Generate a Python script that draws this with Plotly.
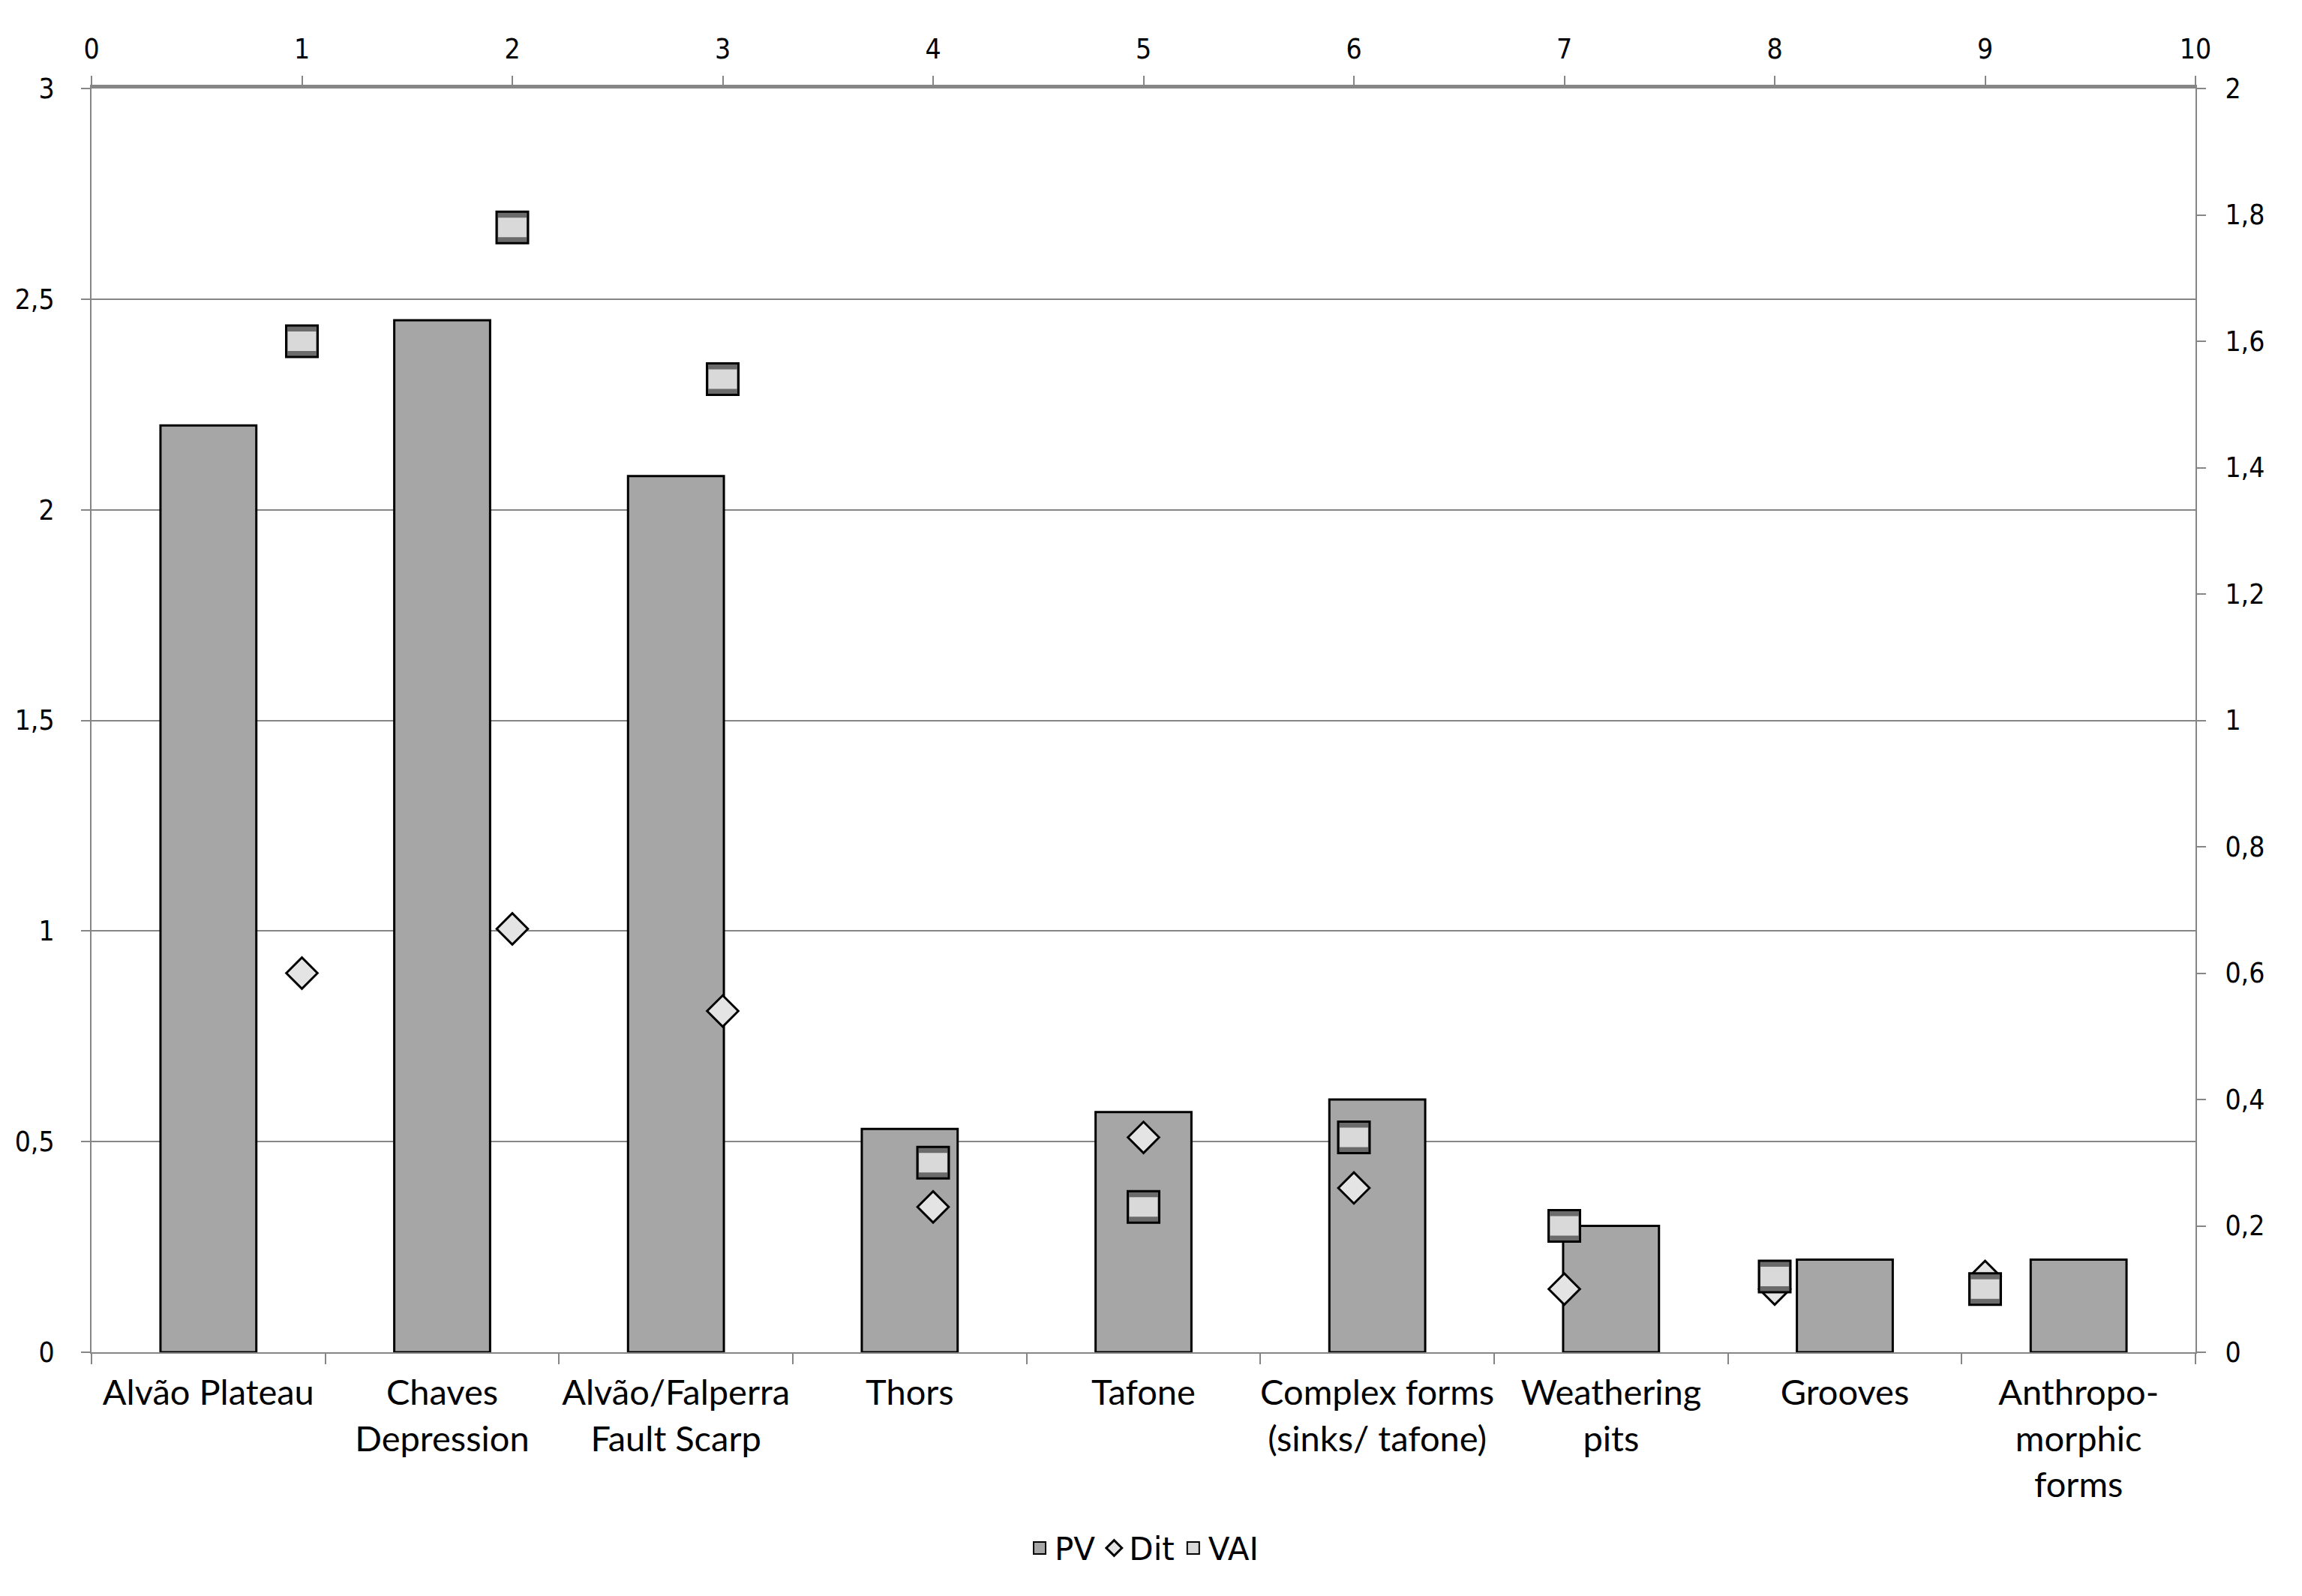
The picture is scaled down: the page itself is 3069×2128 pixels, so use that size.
import plotly.graph_objects as go

# ---- data ----
categories = ["Alvão Plateau", "Chaves<br>Depression", "Alvão/Falperra<br>Fault Scarp",
              "Thors", "Tafone", "Complex forms<br>(sinks/ tafone)", "Weathering<br>pits",
              "Grooves", "Anthropo-<br>morphic<br>forms"]
pv = [2.2, 2.45, 2.08, 0.53, 0.57, 0.6, 0.3, 0.22, 0.22]
point_x = [1, 2, 3, 4, 5, 6, 7, 8, 9]
dit = [0.6, 0.67, 0.54, 0.23, 0.34, 0.26, 0.1, 0.1, 0.12]
vai = [1.6, 1.78, 1.54, 0.3, 0.23, 0.34, 0.2, 0.12, 0.1]

AX = "#868686"
NUMFONT = dict(family="DejaVu Sans Condensed", size=37, color="black")
CATFONT = dict(family="Lato", size=47, color="black")

fig = go.Figure()

fig.add_trace(go.Bar(
    x=categories, y=pv, name="PV", width=0.41,
    marker=dict(color="#a6a6a6", line=dict(color="black", width=3)),
    showlegend=False, legendgroup="pv",
))
# legend entry for PV
fig.add_trace(go.Scatter(
    x=[None], y=[None], mode="markers", name="PV",
    marker=dict(symbol="square", size=16, color="#a6a6a6",
                line=dict(color="black", width=2)),
    legendgroup="pv", legendrank=1,
))

fig.add_trace(go.Scatter(
    x=point_x, y=dit, xaxis="x2", yaxis="y2", mode="markers", name="Dit",
    marker=dict(symbol="diamond", size=32, color="#e4e4e4",
                line=dict(color="black", width=3)),
    legendrank=2,
))

# VAI: dark square base with light middle band
fig.add_trace(go.Scatter(
    x=point_x, y=vai, xaxis="x2", yaxis="y2", mode="markers", name="VAI",
    marker=dict(symbol="square", size=42, color="#6b6b6b",
                line=dict(color="black", width=3)),
    showlegend=False, legendgroup="vai",
))
fig.add_trace(go.Scatter(
    x=point_x, y=vai, xaxis="x2", yaxis="y2", mode="markers", name="VAI",
    marker=dict(symbol="line-ew-open", size=27, color="#d9d9d9",
                line=dict(color="#d9d9d9", width=26)),
    showlegend=False, legendgroup="vai",
))
# legend entry for VAI
fig.add_trace(go.Scatter(
    x=[None], y=[None], xaxis="x2", yaxis="y2", mode="markers", name="VAI",
    marker=dict(symbol="square", size=16, color="#d9d9d9",
                line=dict(color="black", width=2)),
    legendgroup="vai", legendrank=3,
))

fig.update_layout(
    width=3069, height=2128,
    margin=dict(l=111, r=150, t=110, b=333),
    plot_bgcolor="white", paper_bgcolor="white",
    separators=",.",
    xaxis=dict(
        type="category", range=[-0.5, 8.5],
        showline=True, linecolor=AX, linewidth=2,
        ticks="outside", tickson="boundaries", ticklen=14, tickcolor=AX, tickwidth=2,
        showgrid=False, tickfont=CATFONT, ticklabelstandoff=12, tickangle=0,
    ),
    yaxis=dict(
        range=[0, 3], dtick=0.5, showgrid=True, gridcolor=AX, gridwidth=2,
        showline=True, linecolor=AX, linewidth=2,
        ticks="outside", ticklen=12, tickcolor=AX, tickwidth=2,
        tickfont=NUMFONT, zeroline=False, ticklabelstandoff=28,
    ),
    xaxis2=dict(
        overlaying="x", side="top", range=[0, 10], dtick=1,
        showline=True, linecolor=AX, linewidth=5,
        ticks="outside", ticklen=12, tickcolor=AX, tickwidth=2,
        showgrid=False, zeroline=False, tickfont=NUMFONT, anchor="y",
        ticklabelstandoff=8,
    ),
    yaxis2=dict(
        overlaying="y", side="right", range=[0, 2], dtick=0.2,
        showline=True, linecolor=AX, linewidth=2,
        ticks="outside", ticklen=12, tickcolor=AX, tickwidth=2,
        showgrid=False, zeroline=False, tickfont=NUMFONT, anchor="x",
        ticklabelstandoff=18,
    ),
    legend=dict(
        orientation="h", x=0.5, xanchor="center", y=-0.155, yanchor="middle",
        font=dict(family="DejaVu Sans", size=42, color="black"),
        itemwidth=30, traceorder="normal",
    ),
    showlegend=True,
)

fig.write_html("out.html")
